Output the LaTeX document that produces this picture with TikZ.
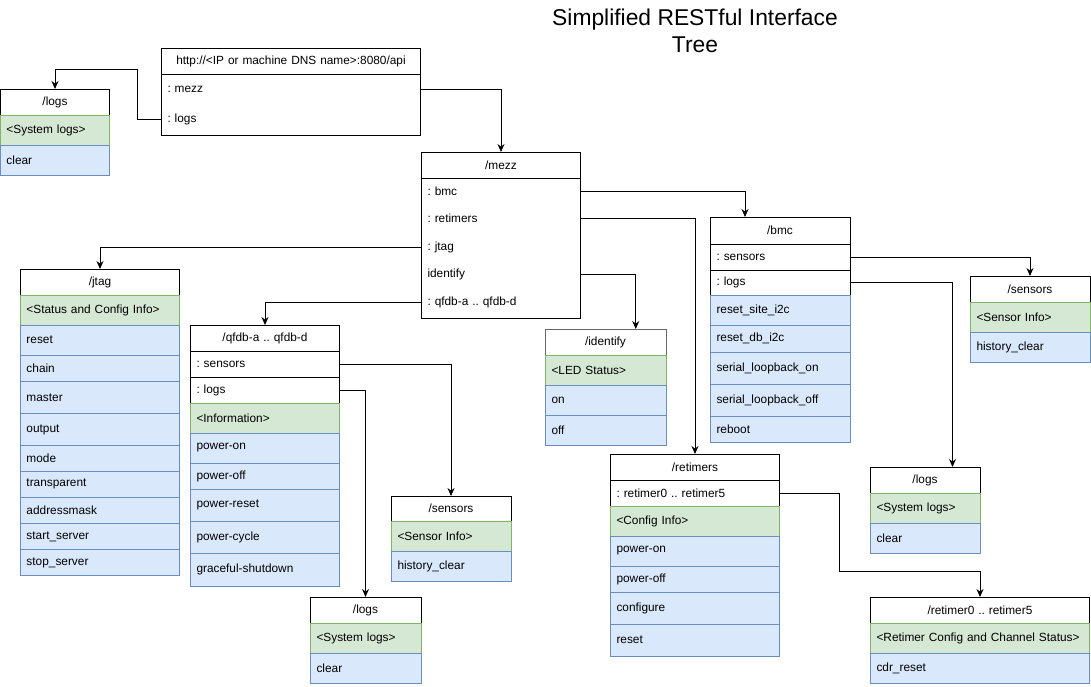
\documentclass[tikz,border=0pt]{standalone}
\usepackage{fontspec}
\setmainfont{Liberation Sans}
\usetikzlibrary{positioning, arrows.meta, calc}
\definecolor{infofill}{HTML}{D5E8D4}
\definecolor{infoline}{HTML}{82B366}
\definecolor{opfill}{HTML}{DAE8FC}
\definecolor{opline}{HTML}{6C8EBF}
\newcommand{\cellfont}{\fontsize{6.75}{8}\selectfont\frenchspacing}
\newcommand{\titlefont}{\fontsize{13}{15.4}\selectfont}
\tikzset{
  cell/.style={
    draw, rectangle, line width=0.55pt,
    inner xsep=0.13cm, inner ysep=0pt, outer sep=0pt,
    font=\cellfont, anchor=north,
  },
  hdr/.style={cell, fill=white, align=center},
  attr/.style={cell, fill=white, align=left},
  plain/.style={attr, draw=none},
  info/.style={cell, draw=infoline, fill=infofill, align=left},
  op/.style={cell, draw=opline, fill=opfill, align=left},
  rh/.style={minimum height=#1*0.02cm},
  bw/.style={every node/.append style={text width=#1}},
  link/.style={draw=black, line width=0.55pt, -{Stealth[length=0.16cm, width=0.14cm]}},
}

\begin{document}
\begin{tikzpicture}[x=0.02cm, y=0.02cm]
\useasboundingbox (0,0) rectangle (1091,-686);

\node[font=\titlefont, align=center] (title) at (695,-31) {Simplified RESTful Interface\\Tree};

% root
\begin{scope}[bw=4.94cm]
\node[hdr, anchor=north west, rh=26] (apiHdr) at (161,-48) {http://<IP or machine DNS name>:8080/api};
\node[plain, rh=30.5, below=0pt of apiHdr] (apiMezz) {: mezz};
\node[plain, rh=30.5, below=0pt of apiMezz] (apiLogs) {: logs};
\draw[line width=0.55pt] (apiMezz.north west) rectangle (apiLogs.south east);
\end{scope}

\begin{scope}[bw=1.94cm]
\node[hdr, anchor=north west, rh=26] (logsAHdr) at (0,-89) {/logs};
\node[info, rh=30, below=0pt of logsAHdr] (logsAInfo) {<System logs>};
\node[op, rh=30, below=0pt of logsAInfo] (logsAClear) {clear};
\end{scope}

% mezz
\begin{scope}[bw=2.94cm]
\node[hdr, anchor=north west, rh=26] (mezzHdr) at (421,-152) {/mezz};
\node[plain, rh=26, below=0pt of mezzHdr] (mezzBmc) {: bmc};
\node[plain, rh=28, below=0pt of mezzBmc] (mezzRet) {: retimers};
\node[plain, rh=30, below=0pt of mezzRet] (mezzJtag) {: jtag};
\node[plain, rh=24, below=0pt of mezzJtag] (mezzIdent) {identify};
\node[plain, rh=32, below=0pt of mezzIdent] (mezzQfdb) {: qfdb-a .. qfdb-d};
\draw[line width=0.55pt] (mezzBmc.north west) rectangle (mezzQfdb.south east);
\end{scope}

% bmc
\begin{scope}[bw=2.54cm]
\node[hdr, anchor=north west, rh=27] (bmcHdr) at (710,-217) {/bmc};
\node[attr, rh=26, below=0pt of bmcHdr] (bmcSens) {: sensors};
\node[attr, rh=25, below=0pt of bmcSens] (bmcLogs) {: logs};
\node[op, rh=30, below=0pt of bmcLogs] (bmcSite) {reset\_site\_i2c};
\node[op, rh=27, below=0pt of bmcSite] (bmcDb) {reset\_db\_i2c};
\node[op, rh=32, below=0pt of bmcDb] (bmcLoopOn) {serial\_loopback\_on};
\node[op, rh=32, below=0pt of bmcLoopOn] (bmcLoopOff) {serial\_loopback\_off};
\node[op, rh=26, below=0pt of bmcLoopOff] (bmcReboot) {reboot};
\end{scope}

\begin{scope}[bw=2.14cm]
\node[hdr, anchor=north west, rh=26] (sensBHdr) at (970,-276) {/sensors};
\node[info, rh=30, below=0pt of sensBHdr] (sensBInfo) {<Sensor Info>};
\node[op, rh=30, below=0pt of sensBInfo] (sensBClear) {history\_clear};
\end{scope}

\begin{scope}[bw=1.94cm]
\node[hdr, anchor=north west, rh=26] (logsBHdr) at (870,-467) {/logs};
\node[info, rh=30, below=0pt of logsBHdr] (logsBInfo) {<System logs>};
\node[op, rh=30, below=0pt of logsBInfo] (logsBClear) {clear};
\end{scope}

% jtag
\begin{scope}[bw=2.94cm]
\node[hdr, anchor=north west, rh=26] (jtagHdr) at (20,-269) {/jtag};
\node[info, rh=30, below=0pt of jtagHdr] (jtagInfo) {<Status and Config Info>};
\node[op, rh=30.4, below=0pt of jtagInfo] (jtagReset) {reset};
\node[op, rh=26, below=0pt of jtagReset] (jtagChain) {chain};
\node[op, rh=32, below=0pt of jtagChain] (jtagMaster) {master};
\node[op, rh=32, below=0pt of jtagMaster] (jtagOutput) {output};
\node[op, rh=25.6, below=0pt of jtagOutput] (jtagMode) {mode};
\node[op, rh=26.4, below=0pt of jtagMode] (jtagTransp) {transparent};
\node[op, rh=26, below=0pt of jtagTransp] (jtagMask) {addressmask};
\node[op, rh=26, below=0pt of jtagMask] (jtagStart) {start\_server};
\node[op, rh=26, below=0pt of jtagStart] (jtagStop) {stop\_server};
\end{scope}

% qfdb
\begin{scope}[bw=2.74cm]
\node[hdr, anchor=north west, rh=26] (qfdbHdr) at (190,-325) {/qfdb-a .. qfdb-d};
\node[attr, rh=26, below=0pt of qfdbHdr] (qfdbSens) {: sensors};
\node[attr, rh=26, below=0pt of qfdbSens] (qfdbLogs) {: logs};
\node[info, rh=30, below=0pt of qfdbLogs] (qfdbInfo) {<Information>};
\node[op, rh=30, below=0pt of qfdbInfo] (qfdbOn) {power-on};
\node[op, rh=26, below=0pt of qfdbOn] (qfdbOff) {power-off};
\node[op, rh=32, below=0pt of qfdbOff] (qfdbRst) {power-reset};
\node[op, rh=32, below=0pt of qfdbRst] (qfdbCycle) {power-cycle};
\node[op, rh=33, below=0pt of qfdbCycle] (qfdbShut) {graceful-shutdown};
\end{scope}

\begin{scope}[bw=2.14cm]
\node[hdr, anchor=north west, rh=25.5] (sensQHdr) at (391,-496) {/sensors};
\node[info, rh=30, below=0pt of sensQHdr] (sensQInfo) {<Sensor Info>};
\node[op, rh=30, below=0pt of sensQInfo] (sensQClear) {history\_clear};
\end{scope}

\begin{scope}[bw=1.96cm]
\node[hdr, anchor=north west, rh=26] (logsQHdr) at (310,-597) {/logs};
\node[info, rh=30, below=0pt of logsQHdr] (logsQInfo) {<System logs>};
\node[op, rh=30, below=0pt of logsQInfo] (logsQClear) {clear};
\end{scope}

% identify
\begin{scope}[bw=2.16cm]
\node[hdr, draw=black!60, anchor=north west, rh=26] (identHdr) at (545,-329) {/identify};
\node[info, rh=30, below=0pt of identHdr] (identInfo) {<LED Status>};
\node[op, rh=30, below=0pt of identInfo] (identOn) {on};
\node[op, rh=30, below=0pt of identOn] (identOff) {off};
\end{scope}

% retimers
\begin{scope}[bw=3.14cm]
\node[hdr, anchor=north west, rh=26.5] (retHdr) at (610,-454) {/retimers};
\node[attr, rh=25.5, below=0pt of retHdr] (retAttr) {: retimer0 .. retimer5};
\node[info, rh=30, below=0pt of retAttr] (retInfo) {<Config Info>};
\node[op, rh=30, below=0pt of retInfo] (retOn) {power-on};
\node[op, rh=26, below=0pt of retOn] (retOff) {power-off};
\node[op, rh=32, below=0pt of retOff] (retConf) {configure};
\node[op, rh=32, below=0pt of retConf] (retReset) {reset};
\end{scope}

\begin{scope}[bw=4.14cm]
\node[hdr, anchor=north west, rh=26] (r0Hdr) at (870,-597) {/retimer0 .. retimer5};
\node[info, rh=30, below=0pt of r0Hdr] (r0Info) {<Retimer Config and Channel Status>};
\node[op, rh=30, below=0pt of r0Info] (r0Cdr) {cdr\_reset};
\end{scope}

% links
\draw[link] (apiLogs.west) -- ++(-24,0) |- ($(logsAHdr.north)+(0,20)$) -- (logsAHdr.north);
\draw[link] (apiMezz.east) -| (mezzHdr.north);
\draw[link] (mezzBmc.east) -| ($(bmcHdr.north west)!0.25!(bmcHdr.north east)$);
\draw[link] (mezzRet.east) -| (retHdr.north);
\draw[link] (mezzJtag.west) -| (jtagHdr.north);
\draw[link] (mezzIdent.east) -| ($(identHdr.north west)!0.75!(identHdr.north east)$);
\draw[link] (mezzQfdb.west) -| (qfdbHdr.north);
\draw[link] (bmcSens.east) -| (sensBHdr.north);
\draw[link] (bmcLogs.east) -| ($(logsBHdr.north west)!0.75!(logsBHdr.north east)$);
\draw[link] (qfdbSens.east) -| (sensQHdr.north);
\draw[link] (qfdbLogs.east) -| (logsQHdr.north);
\draw[link] (retAttr.east) -- ++(60,0) |- ($(r0Hdr.north)+(0,26)$) -- (r0Hdr.north);

\end{tikzpicture}
\end{document}
